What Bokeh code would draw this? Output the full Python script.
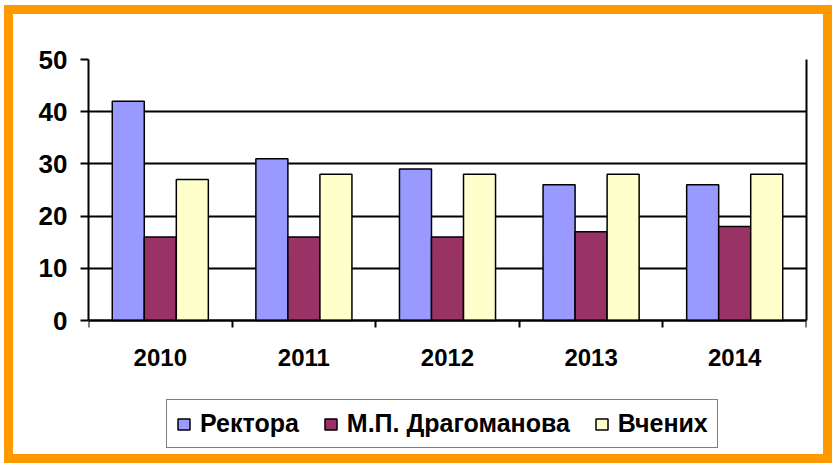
import numpy as np
from bokeh.plotting import figure
from bokeh.models import (ColumnDataSource, FixedTicker, Legend, LegendItem, Range1d,
                          LinearAxis)
from bokeh.transform import dodge
from bokeh.embed import file_html
from bokeh.resources import INLINE

# ---- data ----
years = ["2010", "2011", "2012", "2013", "2014"]
rektora = [42, 31, 29, 26, 26]
drahomanova = [16, 16, 16, 17, 18]
vchenykh = [27, 28, 28, 28, 28]
series_names = ["Ректора", "М.П. Драгоманова", "Вчених"]
series_colors = ["#9999FF", "#993366", "#FFFFCC"]
y_ticks = [0, 10, 20, 30, 40, 50]

pos = [i + 0.5 for i in range(len(years))]
src = ColumnDataSource(dict(pos=pos, r=rektora, d=drahomanova, v=vchenykh))

FONT = "Liberation Sans"

# layout constants (canvas pixels)
W, H = 828, 458
FRAME_TOP_PX = 45       # canvas y of value 50
ZERO_PX = 306           # canvas y of value 0
BOTTOM_BORDER = 17
FRAME_BOTTOM_PX = H - BOTTOM_BORDER
px_per_unit = (ZERO_PX - FRAME_TOP_PX) / (max(y_ticks) - min(y_ticks))
y_start = -(FRAME_BOTTOM_PX - ZERO_PX) / px_per_unit

p = figure(width=W, height=H, output_backend="svg", toolbar_location=None,
           x_range=Range1d(0, len(years)), y_range=Range1d(y_start, max(y_ticks)),
           min_border_left=75, min_border_top=FRAME_TOP_PX, min_border_right=35,
           min_border_bottom=BOTTOM_BORDER,
           background_fill_color="white", border_fill_color="white",
           styles={"border": "9px solid #FF9900", "overflow": "hidden"})
p.margin = (5, 0, 0, 4)

bw = 0.223
cols = ["r", "d", "v"]
offs = [-bw, 0.0, bw]
rends = []
for c, o, col in zip(cols, offs, series_colors):
    r = p.vbar(x=dodge("pos", o, range=p.x_range), top=c, bottom=0, width=bw, source=src,
               fill_color=col, line_color="black", line_width=1.5)
    rends.append(r)

p.outline_line_color = None
p.xgrid.visible = False
p.ygrid.grid_line_color = "black"
p.ygrid.grid_line_width = 2
p.ygrid.ticker = FixedTicker(ticks=y_ticks)

# y axis
p.yaxis.ticker = FixedTicker(ticks=y_ticks)
p.yaxis.bounds = (min(y_ticks), max(y_ticks))
p.yaxis.axis_line_color = "black"
p.yaxis.axis_line_width = 2
p.yaxis.major_tick_line_width = 2
p.yaxis.major_tick_out = 8
p.yaxis.major_tick_in = 0
p.yaxis.minor_tick_line_color = None
p.yaxis.major_label_text_font = FONT
p.yaxis.major_label_text_font_style = "bold"
p.yaxis.major_label_text_font_size = "26px"
p.yaxis.major_label_text_color = "black"
p.yaxis.major_label_standoff = 13

# right border line of the plot area
ra = LinearAxis(ticker=FixedTicker(ticks=[]), bounds=(min(y_ticks), max(y_ticks)),
                axis_line_color="black", axis_line_width=2,
                major_tick_line_color=None, minor_tick_line_color=None,
                major_label_text_font_size="1px")
p.add_layout(ra, "right")

# x axis at value 0
p.xaxis.fixed_location = 0
p.xaxis.ticker = FixedTicker(ticks=pos, minor_ticks=list(range(len(years) + 1)))
p.xaxis.major_label_overrides = {pp: y for pp, y in zip(pos, years)}
p.xaxis.axis_line_color = "black"
p.xaxis.axis_line_width = 2
p.xaxis.major_tick_out = 0
p.xaxis.major_tick_in = 0
p.xaxis.minor_tick_out = 7
p.xaxis.minor_tick_in = 0
p.xaxis.minor_tick_line_width = 2
p.xaxis.minor_tick_line_color = "black"
p.xaxis.major_label_text_font = FONT
p.xaxis.major_label_text_font_style = "bold"
p.xaxis.major_label_text_font_size = "24px"
p.xaxis.major_label_text_color = "black"
p.xaxis.major_label_standoff = 21

legend = Legend(items=[LegendItem(label=n, renderers=[r]) for n, r in zip(series_names, rends)],
                orientation="horizontal", location=(78, 7))
legend.label_text_font = FONT
legend.label_text_font_style = "bold"
legend.label_text_font_size = "25px"
legend.label_text_color = "black"
legend.glyph_width = 15
legend.glyph_height = 14
legend.label_standoff = 9
legend.spacing = 24
legend.padding = 9
legend.margin = 0
legend.border_line_color = "black"
legend.border_line_width = 1.5
legend.background_fill_color = "white"
legend.background_fill_alpha = 1
p.add_layout(legend, "center")

open("out.html", "w").write(file_html(p, INLINE))
